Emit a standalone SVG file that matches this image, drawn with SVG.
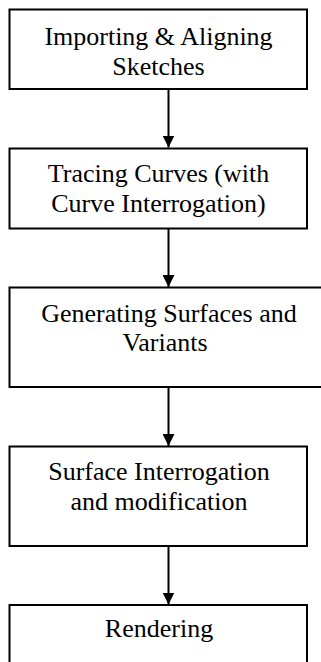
<svg xmlns="http://www.w3.org/2000/svg" width="321" height="662" viewBox="0 0 321 662">
<style>
.box{fill:#fff;stroke:#000;stroke-width:2}
.c{stroke:#000;stroke-width:2;fill:none}
</style>
<defs>
<marker id="ah" markerWidth="12" markerHeight="12" refX="12" refY="6" orient="auto" markerUnits="userSpaceOnUse">
<path d="M0,0 L12,6 L0,12 Z" fill="#000"/>
</marker>
</defs>
<rect width="321" height="662" fill="#fff"/>
<g id="connectors">
<line class="c" x1="168.5" y1="89" x2="168.5" y2="147.5" marker-end="url(#ah)"/>
<line class="c" x1="168.5" y1="228.5" x2="168.5" y2="287" marker-end="url(#ah)"/>
<line class="c" x1="168.5" y1="387" x2="168.5" y2="446" marker-end="url(#ah)"/>
<line class="c" x1="168.5" y1="546" x2="168.5" y2="604.5" marker-end="url(#ah)"/>
</g>
<g font-family="Liberation Serif, serif" font-size="26" fill="#000" text-anchor="middle">
<g id="n1">
<rect class="box" x="9.5" y="9.5" width="297.5" height="79.5"/>
<text x="158.5" y="45">Importing &amp; Aligning</text>
<text x="158.5" y="75">Sketches</text>
</g>
<g id="n2">
<rect class="box" x="9.5" y="148.5" width="297.5" height="80"/>
<text x="158.5" y="181.5">Tracing Curves (with</text>
<text x="158.5" y="211.5">Curve Interrogation)</text>
</g>
<g id="n3">
<rect class="box" x="9.5" y="287.5" width="320" height="99.5"/>
<text x="169" y="321.5">Generating Surfaces and</text>
<text x="165" y="351">Variants</text>
</g>
<g id="n4">
<rect class="box" x="9.5" y="446.5" width="297.5" height="99.5"/>
<text x="159" y="480">Surface Interrogation</text>
<text x="159" y="510">and modification</text>
</g>
<g id="n5">
<rect class="box" x="9.5" y="605" width="297.5" height="80"/>
<text x="159" y="637">Rendering</text>
</g>
</g>
</svg>
